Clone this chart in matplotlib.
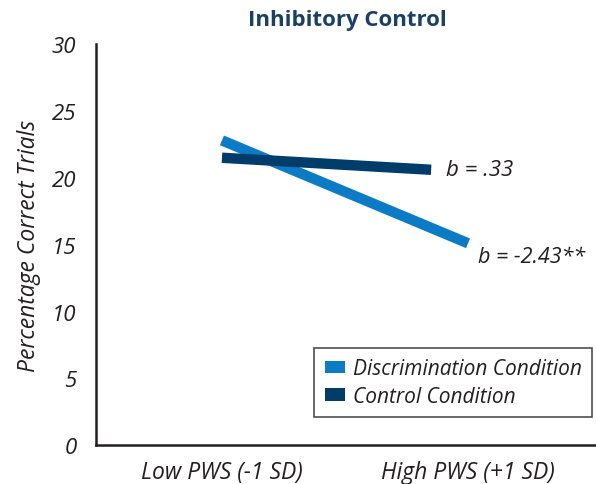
import matplotlib.pyplot as plt
from matplotlib.patches import Patch

title = "Inhibitory Control"
categories = ["Low PWS (-1 SD)", "High PWS (+1 SD)"]
disc_x = [0, 1]
disc_y = [22.8, 15.1]
ctrl_x = [0, 0.85]
ctrl_y = [21.5, 20.6]
disc_label = "Discrimination Condition"
ctrl_label = "Control Condition"
yticks = [0, 5, 10, 15, 20, 25, 30]

disc_color = "#0a7bc4"
ctrl_color = "#003d6b"
text_color = "#231f20"

plt.rcParams['font.family'] = ['Open Sans', 'DejaVu Sans']

fig = plt.figure(figsize=(5.96, 4.85), dpi=100)
ax = fig.add_axes([0.161, 0.08, 0.839, 0.827])

ax.plot(disc_x, disc_y, color=disc_color, linewidth=7.5, solid_capstyle='butt')
ax.plot(ctrl_x, ctrl_y, color=ctrl_color, linewidth=7.5, solid_capstyle='butt')

ax.set_xlim(-0.512, 1.52)
ax.set_ylim(0, 30)
ax.set_yticks(yticks)
ax.set_yticklabels([str(v) for v in yticks], fontsize=16, style='italic', color=text_color)
ax.set_xticks([0, 1])
ax.set_xticklabels(categories, fontsize=16.5, style='italic', color=text_color)
ax.tick_params(axis='both', length=0)
ax.tick_params(axis='y', pad=14)
ax.tick_params(axis='x', pad=11)

for s in ['top', 'right']:
    ax.spines[s].set_visible(False)
for s in ['left', 'bottom']:
    ax.spines[s].set_linewidth(1.8)
    ax.spines[s].set_color(text_color)

ax.set_ylabel("Percentage Correct Trials", fontsize=16.5, style='italic', color=text_color, labelpad=8)

fig.text(0.583, 0.957, title, ha='center', va='center', fontsize=16, fontweight='bold', color='#1b3f66')

ax.text(ctrl_x[1] + 0.06, ctrl_y[1], "b = .33", fontsize=16, style='italic', color=text_color, va='center')
ax.text(disc_x[1] + 0.04, disc_y[1] - 1.0, "b = -2.43**", fontsize=15.5, style='italic', color=text_color, va='center')

handles = [Patch(facecolor=disc_color, label=disc_label), Patch(facecolor=ctrl_color, label=ctrl_label)]
leg = ax.legend(handles=handles, loc='lower right', bbox_to_anchor=(0.992, 0.07), borderaxespad=0,
                prop={'size': 15, 'style': 'italic'}, frameon=True, fancybox=False,
                edgecolor=text_color, handlelength=1.0, handleheight=0.55, handletextpad=0.35,
                borderpad=0.5, labelspacing=0.3)
leg.get_frame().set_linewidth(1.2)
for t in leg.get_texts():
    t.set_color(text_color)

fig.savefig("out.png", dpi=100)
